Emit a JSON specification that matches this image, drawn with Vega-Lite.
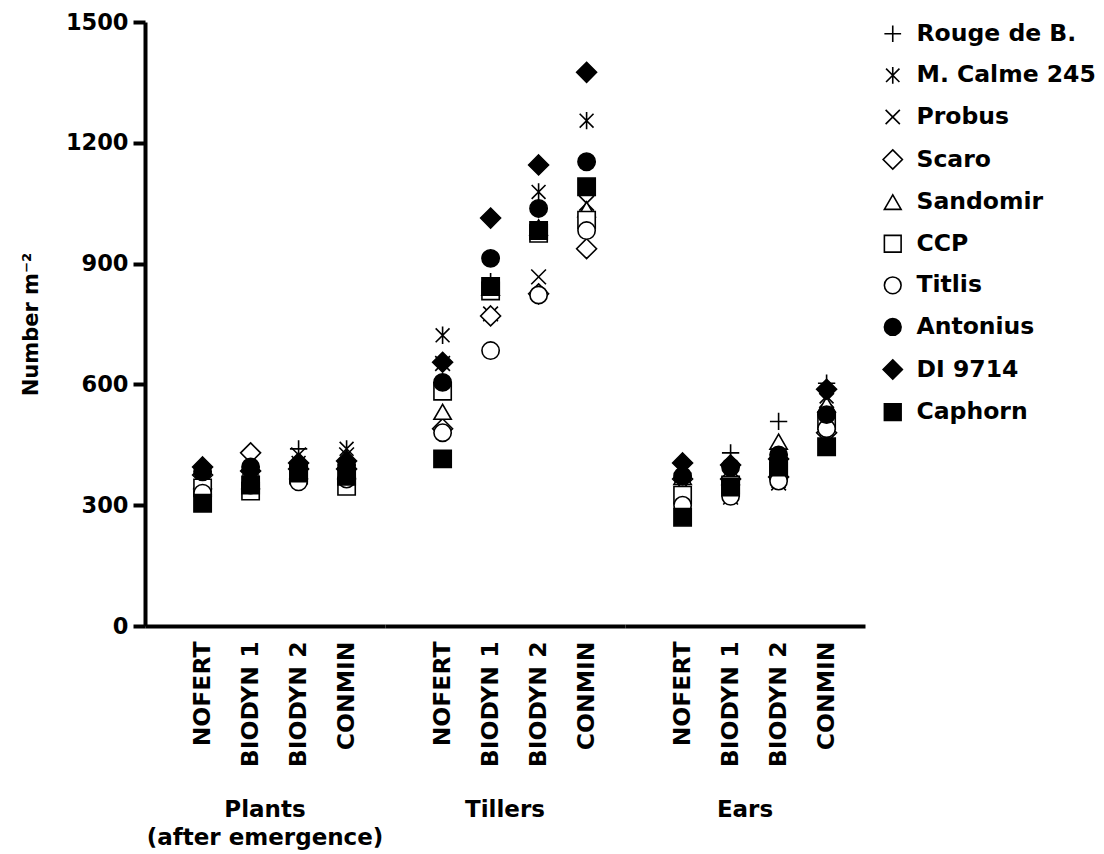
{
  "$schema": "https://vega.github.io/schema/vega-lite/v6.json",
  "autosize": {"type": "pad"},
  "padding": {"left": 20, "top": 11, "right": 0, "bottom": 0},
  "background": "white",
  "data": {"values": [
    {"group":"Plants","treatment":"NOFERT","variety":"Rouge de B.","value":380},
    {"group":"Plants","treatment":"NOFERT","variety":"M. Calme 245","value":385},
    {"group":"Plants","treatment":"NOFERT","variety":"Probus","value":370},
    {"group":"Plants","treatment":"NOFERT","variety":"Scaro","value":375},
    {"group":"Plants","treatment":"NOFERT","variety":"Sandomir","value":360},
    {"group":"Plants","treatment":"NOFERT","variety":"CCP","value":343},
    {"group":"Plants","treatment":"NOFERT","variety":"Titlis","value":330},
    {"group":"Plants","treatment":"NOFERT","variety":"Antonius","value":383},
    {"group":"Plants","treatment":"NOFERT","variety":"DI 9714","value":395},
    {"group":"Plants","treatment":"NOFERT","variety":"Caphorn","value":305},
    {"group":"Plants","treatment":"BIODYN 1","variety":"Rouge de B.","value":375},
    {"group":"Plants","treatment":"BIODYN 1","variety":"M. Calme 245","value":370},
    {"group":"Plants","treatment":"BIODYN 1","variety":"Probus","value":365},
    {"group":"Plants","treatment":"BIODYN 1","variety":"Scaro","value":430},
    {"group":"Plants","treatment":"BIODYN 1","variety":"Sandomir","value":360},
    {"group":"Plants","treatment":"BIODYN 1","variety":"CCP","value":335},
    {"group":"Plants","treatment":"BIODYN 1","variety":"Titlis","value":350},
    {"group":"Plants","treatment":"BIODYN 1","variety":"Antonius","value":395},
    {"group":"Plants","treatment":"BIODYN 1","variety":"DI 9714","value":385},
    {"group":"Plants","treatment":"BIODYN 1","variety":"Caphorn","value":350},
    {"group":"Plants","treatment":"BIODYN 2","variety":"Rouge de B.","value":440},
    {"group":"Plants","treatment":"BIODYN 2","variety":"M. Calme 245","value":405},
    {"group":"Plants","treatment":"BIODYN 2","variety":"Probus","value":425},
    {"group":"Plants","treatment":"BIODYN 2","variety":"Scaro","value":390},
    {"group":"Plants","treatment":"BIODYN 2","variety":"Sandomir","value":385},
    {"group":"Plants","treatment":"BIODYN 2","variety":"CCP","value":375},
    {"group":"Plants","treatment":"BIODYN 2","variety":"Titlis","value":358},
    {"group":"Plants","treatment":"BIODYN 2","variety":"Antonius","value":395},
    {"group":"Plants","treatment":"BIODYN 2","variety":"DI 9714","value":405},
    {"group":"Plants","treatment":"BIODYN 2","variety":"Caphorn","value":380},
    {"group":"Plants","treatment":"CONMIN","variety":"Rouge de B.","value":395},
    {"group":"Plants","treatment":"CONMIN","variety":"M. Calme 245","value":440},
    {"group":"Plants","treatment":"CONMIN","variety":"Probus","value":425},
    {"group":"Plants","treatment":"CONMIN","variety":"Scaro","value":390},
    {"group":"Plants","treatment":"CONMIN","variety":"Sandomir","value":385},
    {"group":"Plants","treatment":"CONMIN","variety":"CCP","value":347},
    {"group":"Plants","treatment":"CONMIN","variety":"Titlis","value":365},
    {"group":"Plants","treatment":"CONMIN","variety":"Antonius","value":400},
    {"group":"Plants","treatment":"CONMIN","variety":"DI 9714","value":410},
    {"group":"Plants","treatment":"CONMIN","variety":"Caphorn","value":372},
    {"group":"Tillers","treatment":"NOFERT","variety":"Rouge de B.","value":590},
    {"group":"Tillers","treatment":"NOFERT","variety":"M. Calme 245","value":722},
    {"group":"Tillers","treatment":"NOFERT","variety":"Probus","value":652},
    {"group":"Tillers","treatment":"NOFERT","variety":"Scaro","value":490},
    {"group":"Tillers","treatment":"NOFERT","variety":"Sandomir","value":532},
    {"group":"Tillers","treatment":"NOFERT","variety":"CCP","value":583},
    {"group":"Tillers","treatment":"NOFERT","variety":"Titlis","value":480},
    {"group":"Tillers","treatment":"NOFERT","variety":"Antonius","value":605},
    {"group":"Tillers","treatment":"NOFERT","variety":"DI 9714","value":655},
    {"group":"Tillers","treatment":"NOFERT","variety":"Caphorn","value":415},
    {"group":"Tillers","treatment":"BIODYN 1","variety":"Rouge de B.","value":855},
    {"group":"Tillers","treatment":"BIODYN 1","variety":"M. Calme 245","value":845},
    {"group":"Tillers","treatment":"BIODYN 1","variety":"Probus","value":775},
    {"group":"Tillers","treatment":"BIODYN 1","variety":"Scaro","value":770},
    {"group":"Tillers","treatment":"BIODYN 1","variety":"Sandomir","value":840},
    {"group":"Tillers","treatment":"BIODYN 1","variety":"CCP","value":832},
    {"group":"Tillers","treatment":"BIODYN 1","variety":"Titlis","value":684},
    {"group":"Tillers","treatment":"BIODYN 1","variety":"Antonius","value":913},
    {"group":"Tillers","treatment":"BIODYN 1","variety":"DI 9714","value":1013},
    {"group":"Tillers","treatment":"BIODYN 1","variety":"Caphorn","value":843},
    {"group":"Tillers","treatment":"BIODYN 2","variety":"Rouge de B.","value":985},
    {"group":"Tillers","treatment":"BIODYN 2","variety":"M. Calme 245","value":1078},
    {"group":"Tillers","treatment":"BIODYN 2","variety":"Probus","value":867},
    {"group":"Tillers","treatment":"BIODYN 2","variety":"Scaro","value":825},
    {"group":"Tillers","treatment":"BIODYN 2","variety":"Sandomir","value":990},
    {"group":"Tillers","treatment":"BIODYN 2","variety":"CCP","value":975},
    {"group":"Tillers","treatment":"BIODYN 2","variety":"Titlis","value":822},
    {"group":"Tillers","treatment":"BIODYN 2","variety":"Antonius","value":1037},
    {"group":"Tillers","treatment":"BIODYN 2","variety":"DI 9714","value":1145},
    {"group":"Tillers","treatment":"BIODYN 2","variety":"Caphorn","value":982},
    {"group":"Tillers","treatment":"CONMIN","variety":"Rouge de B.","value":1012},
    {"group":"Tillers","treatment":"CONMIN","variety":"M. Calme 245","value":1255},
    {"group":"Tillers","treatment":"CONMIN","variety":"Probus","value":1050},
    {"group":"Tillers","treatment":"CONMIN","variety":"Scaro","value":937},
    {"group":"Tillers","treatment":"CONMIN","variety":"Sandomir","value":1035},
    {"group":"Tillers","treatment":"CONMIN","variety":"CCP","value":1008},
    {"group":"Tillers","treatment":"CONMIN","variety":"Titlis","value":982},
    {"group":"Tillers","treatment":"CONMIN","variety":"Antonius","value":1153},
    {"group":"Tillers","treatment":"CONMIN","variety":"DI 9714","value":1375},
    {"group":"Tillers","treatment":"CONMIN","variety":"Caphorn","value":1091},
    {"group":"Ears","treatment":"NOFERT","variety":"Rouge de B.","value":380},
    {"group":"Ears","treatment":"NOFERT","variety":"M. Calme 245","value":395},
    {"group":"Ears","treatment":"NOFERT","variety":"Probus","value":390},
    {"group":"Ears","treatment":"NOFERT","variety":"Scaro","value":365},
    {"group":"Ears","treatment":"NOFERT","variety":"Sandomir","value":370},
    {"group":"Ears","treatment":"NOFERT","variety":"CCP","value":325},
    {"group":"Ears","treatment":"NOFERT","variety":"Titlis","value":300},
    {"group":"Ears","treatment":"NOFERT","variety":"Antonius","value":372},
    {"group":"Ears","treatment":"NOFERT","variety":"DI 9714","value":405},
    {"group":"Ears","treatment":"NOFERT","variety":"Caphorn","value":270},
    {"group":"Ears","treatment":"BIODYN 1","variety":"Rouge de B.","value":430},
    {"group":"Ears","treatment":"BIODYN 1","variety":"M. Calme 245","value":325},
    {"group":"Ears","treatment":"BIODYN 1","variety":"Probus","value":320},
    {"group":"Ears","treatment":"BIODYN 1","variety":"Scaro","value":365},
    {"group":"Ears","treatment":"BIODYN 1","variety":"Sandomir","value":370},
    {"group":"Ears","treatment":"BIODYN 1","variety":"CCP","value":350},
    {"group":"Ears","treatment":"BIODYN 1","variety":"Titlis","value":322},
    {"group":"Ears","treatment":"BIODYN 1","variety":"Antonius","value":395},
    {"group":"Ears","treatment":"BIODYN 1","variety":"DI 9714","value":400},
    {"group":"Ears","treatment":"BIODYN 1","variety":"Caphorn","value":345},
    {"group":"Ears","treatment":"BIODYN 2","variety":"Rouge de B.","value":508},
    {"group":"Ears","treatment":"BIODYN 2","variety":"M. Calme 245","value":360},
    {"group":"Ears","treatment":"BIODYN 2","variety":"Probus","value":355},
    {"group":"Ears","treatment":"BIODYN 2","variety":"Scaro","value":370},
    {"group":"Ears","treatment":"BIODYN 2","variety":"Sandomir","value":458},
    {"group":"Ears","treatment":"BIODYN 2","variety":"CCP","value":385},
    {"group":"Ears","treatment":"BIODYN 2","variety":"Titlis","value":360},
    {"group":"Ears","treatment":"BIODYN 2","variety":"Antonius","value":425},
    {"group":"Ears","treatment":"BIODYN 2","variety":"DI 9714","value":415},
    {"group":"Ears","treatment":"BIODYN 2","variety":"Caphorn","value":395},
    {"group":"Ears","treatment":"CONMIN","variety":"Rouge de B.","value":603},
    {"group":"Ears","treatment":"CONMIN","variety":"M. Calme 245","value":570},
    {"group":"Ears","treatment":"CONMIN","variety":"Probus","value":560},
    {"group":"Ears","treatment":"CONMIN","variety":"Scaro","value":480},
    {"group":"Ears","treatment":"CONMIN","variety":"Sandomir","value":550},
    {"group":"Ears","treatment":"CONMIN","variety":"CCP","value":510},
    {"group":"Ears","treatment":"CONMIN","variety":"Titlis","value":490},
    {"group":"Ears","treatment":"CONMIN","variety":"Antonius","value":525},
    {"group":"Ears","treatment":"CONMIN","variety":"DI 9714","value":588},
    {"group":"Ears","treatment":"CONMIN","variety":"Caphorn","value":445}
  ]},
  "facet": {
    "column": {
      "field": "group", "type": "nominal", "sort": ["Plants", "Tillers", "Ears"],
      "header": {
        "title": null, "labelOrient": "bottom",
        "labelExpr": "datum.value == 'Plants' ? ['Plants', '(after emergence)'] : datum.value",
        "labelFont": "DejaVu Sans", "labelFontWeight": "bold", "labelFontSize": 23,
        "labelColor": "black", "labelPadding": 32, "labelLineHeight": 28, "labelBaseline": "top"
      }
    }
  },
  "spacing": 0,
  "spec": {
    "width": 240,
    "height": 604,
    "mark": {"type": "point", "filled": true, "stroke": "black", "strokeWidth": 1.6, "opacity": 1, "size": 300},
    "encoding": {
      "x": {
        "field": "treatment", "type": "nominal", "sort": ["NOFERT", "BIODYN 1", "BIODYN 2", "CONMIN"],
        "scale": {"type": "point", "padding": 1, "align": 0.6},
        "axis": {
          "title": null, "labelAngle": 270, "ticks": false, "labelPadding": 15,
          "domainWidth": 4, "domainColor": "black",
          "labelFont": "DejaVu Sans", "labelFontWeight": "bold", "labelFontSize": 23.5, "labelColor": "black"
        }
      },
      "y": {
        "field": "value", "type": "quantitative",
        "scale": {"domain": [0, 1500], "nice": false, "zero": true},
        "axis": {
          "values": [0, 300, 600, 900, 1200, 1500], "format": "d", "title": "Number m⁻²", "grid": false,
          "domainWidth": 4, "domainColor": "black", "tickWidth": 4, "tickSize": 12, "tickColor": "black",
          "labelPadding": 5, "labelFont": "DejaVu Sans", "labelFontWeight": "bold", "labelFontSize": 22.5, "labelColor": "black",
          "titleFont": "DejaVu Sans", "titleFontWeight": "bold", "titleFontSize": 21, "titleColor": "black", "titlePadding": 24
        }
      },
      "shape": {
        "field": "variety", "type": "nominal",
        "sort": ["Rouge de B.", "M. Calme 245", "Probus", "Scaro", "Sandomir", "CCP", "Titlis", "Antonius", "DI 9714", "Caphorn"],
        "scale": {
          "domain": ["Rouge de B.", "M. Calme 245", "Probus", "Scaro", "Sandomir", "CCP", "Titlis", "Antonius", "DI 9714", "Caphorn"],
          "range": [
            "M-1,0H1M0,-1V1",
            "M0,-1V1M-0.8,-0.8L0.8,0.8M-0.8,0.8L0.8,-0.8",
            "M-0.85,-0.85L0.85,0.85M-0.85,0.85L0.85,-0.85",
            "M0,-1.15L1.15,0L0,1.15L-1.15,0Z",
            "triangle-up",
            "square",
            "circle",
            "circle",
            "M0,-1.15L1.15,0L0,1.15L-1.15,0Z",
            "square"
          ]
        },
        "legend": {
          "title": null, "symbolStrokeColor": "black", "symbolStrokeWidth": 1.6,
          "encode": {"symbols": {"update": {"stroke": {"value": "black"}, "strokeWidth": {"value": 1.6}}}}
        }
      },
      "fill": {
        "field": "variety", "type": "nominal",
        "sort": ["Rouge de B.", "M. Calme 245", "Probus", "Scaro", "Sandomir", "CCP", "Titlis", "Antonius", "DI 9714", "Caphorn"],
        "scale": {
          "domain": ["Rouge de B.", "M. Calme 245", "Probus", "Scaro", "Sandomir", "CCP", "Titlis", "Antonius", "DI 9714", "Caphorn"],
          "range": ["transparent", "transparent", "transparent", "white", "white", "white", "white", "black", "black", "black"]
        },
        "legend": {
          "title": null, "symbolStrokeColor": "black", "symbolStrokeWidth": 1.6,
          "encode": {"symbols": {"update": {"stroke": {"value": "black"}, "strokeWidth": {"value": 1.6}}}}
        }
      }
    }
  },
  "config": {
    "view": {"stroke": null},
    "legend": {
      "orient": "right", "offset": 16,
      "labelFont": "DejaVu Sans", "labelFontWeight": "bold", "labelFontSize": 23.5, "labelColor": "black",
      "symbolSize": 280, "symbolOpacity": 1,
      "rowPadding": 16.6, "labelOffset": 12, "labelLimit": 300
    }
  }
}
